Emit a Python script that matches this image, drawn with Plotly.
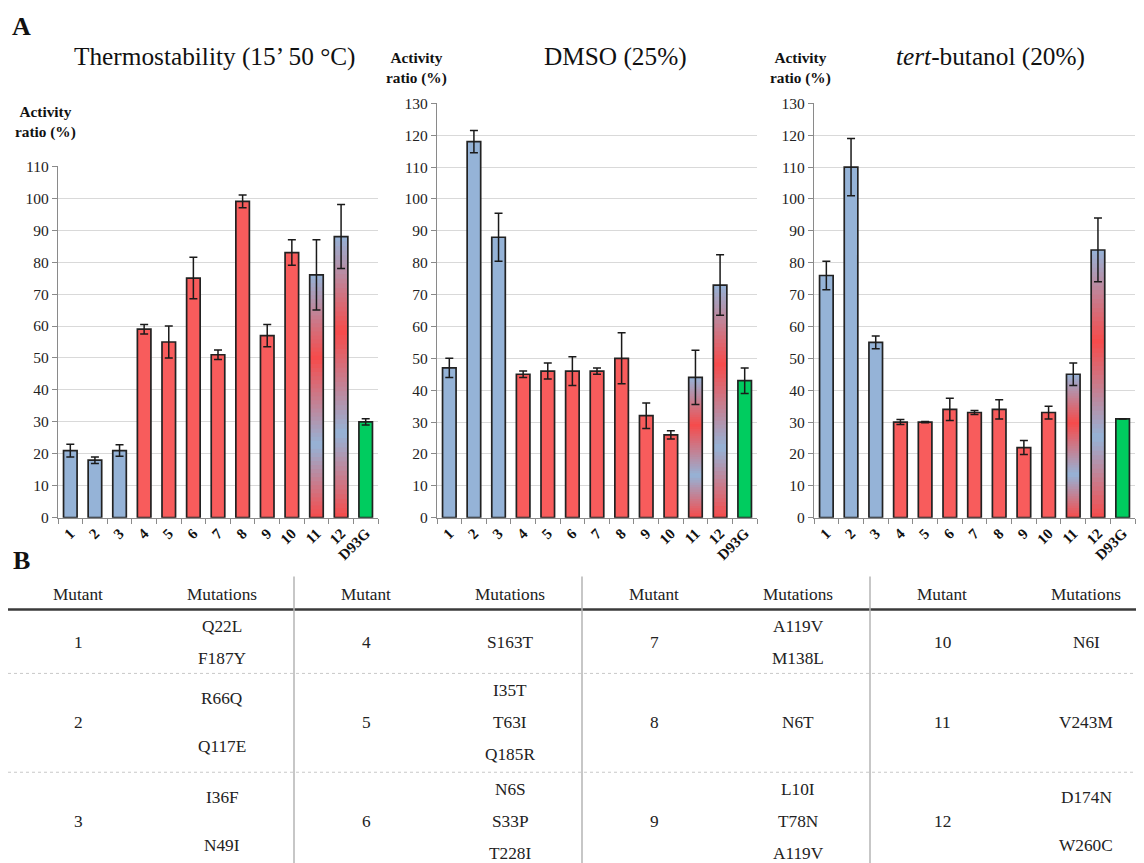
import plotly.graph_objects as go

# ---------------- data ----------------
categories = ["1", "2", "3", "4", "5", "6", "7", "8", "9", "10", "11", "12", "D93G"]
group = ["blue", "blue", "blue", "red", "red", "red", "red", "red", "red", "red", "grad", "grad", "green"]

thermo_vals = [21, 18, 21, 59, 55, 75, 51, 99, 57, 83, 76, 88, 30]
thermo_err = [2, 1, 1.8, 1.5, 5, 6.5, 1.5, 2, 3.5, 4, 11, 10, 1]

dmso_vals = [47, 118, 88, 45, 46, 46, 46, 50, 32, 26, 44, 73, 43]
dmso_err = [3, 3.5, 7.5, 1, 2.5, 4.5, 1, 8, 4, 1.3, 8.5, 9.5, 4]

tbut_vals = [76, 110, 55, 30, 30, 34, 33, 34, 22, 33, 45, 84, 31]
tbut_err = [4.5, 9, 2, 0.8, 0.2, 3.5, 0.6, 3, 2.2, 2, 3.5, 10, 0]

panel_titles = ["Thermostability (15’ 50 °C)", "DMSO (25%)", "<i>tert</i>-butanol (20%)"]
y_max = [110, 130, 130]

table_mutants = [str(i) for i in range(1, 13)]
table_mutations = [
    ["Q22L", "F187Y"], ["R66Q", "Q117E"], ["I36F", "N49I"],
    ["S163T"], ["I35T", "T63I", "Q185R"], ["N6S", "S33P", "T228I"],
    ["A119V", "M138L"], ["N6T"], ["L10I", "T78N", "A119V"],
    ["N6I"], ["V243M"], ["D174N", "W260C"],
]

# ---------------- geometry helpers ----------------
OFF = 8            # body margin of the html page
W, H = 1136, 863
Y_SHIFT, Y_SCALE = 7.6, 0.982   # measured page->picture mapping


def px(x):
    return (x - OFF) / W


def py(y):
    page_y = (y - Y_SHIFT) / Y_SCALE
    return 1 - (page_y - OFF) / H


# ---------------- style ----------------
SERIF = "Liberation Serif, Times New Roman, Tinos, DejaVu Serif, serif"
BLUE = (149, 179, 215)
GRAD_RED = (246, 75, 75)
GREEN = "#00CC5F"
colors = {"blue": "rgb(149,179,215)", "red": "rgb(248,92,92)", "green": GREEN}
grad_stops = [(0.0, GRAD_RED), (0.3, BLUE), (0.66, GRAD_RED), (1.0, BLUE)]


def grad_color(f):
    for (f0, c0), (f1, c1) in zip(grad_stops[:-1], grad_stops[1:]):
        if f0 <= f <= f1:
            t = (f - f0) / (f1 - f0)
            c = [round(a + (b - a) * t) for a, b in zip(c0, c1)]
            return f"rgb({c[0]},{c[1]},{c[2]})"
    return f"rgb{grad_stops[-1][1]}"


x_domains = [(58, 378), (437, 757), (814, 1135)]
y_tops = [165, 102, 102]
y_bottom = 517
BAR_W = 0.55
N_SEG = 60

fig = go.Figure()
datasets = [(thermo_vals, thermo_err), (dmso_vals, dmso_err), (tbut_vals, tbut_err)]

for i, (vals, errs) in enumerate(datasets):
    xa = "x" if i == 0 else f"x{i+1}"
    ya = "y" if i == 0 else f"y{i+1}"
    fills = [colors[g] if g != "grad" else "rgba(0,0,0,0)" for g in group]
    fig.add_trace(go.Bar(x=categories, y=vals, width=BAR_W, marker=dict(color=fills, line=dict(width=0)),
                         xaxis=xa, yaxis=ya, showlegend=False, hoverinfo="skip"))
    gx, gbase, gy, gcol = [], [], [], []
    for c, v, g in zip(categories, vals, group):
        if g != "grad":
            continue
        for k in range(N_SEG):
            b0 = v * k / N_SEG
            gx.append(c)
            gbase.append(b0)
            gy.append(min(3 * v / N_SEG, v - b0))
            gcol.append(grad_color((k + 0.5) / N_SEG))
    fig.add_trace(go.Bar(x=gx, y=gy, base=gbase, width=BAR_W, marker=dict(color=gcol, line=dict(width=0)),
                         xaxis=xa, yaxis=ya, showlegend=False, hoverinfo="skip"))
    fig.add_trace(go.Bar(x=categories, y=vals, width=BAR_W,
                         marker=dict(color="rgba(0,0,0,0)", line=dict(color="#222222", width=1.7)),
                         error_y=dict(type="data", array=errs, visible=True, color="#1a1a1a",
                                      thickness=1.5, width=4),
                         xaxis=xa, yaxis=ya, showlegend=False, hoverinfo="skip"))

layout = dict(
    width=W, height=H, margin=dict(l=0, r=0, t=0, b=0),
    paper_bgcolor="white", plot_bgcolor="white", barmode="overlay",
    font=dict(family=SERIF, color="#111111"),
)
for i in range(3):
    xk = "xaxis" if i == 0 else f"xaxis{i+1}"
    yk = "yaxis" if i == 0 else f"yaxis{i+1}"
    ya_ref = "y" if i == 0 else f"y{i+1}"
    xa_ref = "x" if i == 0 else f"x{i+1}"
    layout[xk] = dict(
        domain=[px(x_domains[i][0]), min(1, px(x_domains[i][1]))], anchor=ya_ref,
        type="category", categoryorder="array", categoryarray=categories,
        range=[-0.5, len(categories) - 0.5],
        showline=True, linecolor="#8a8a8a", linewidth=1.2,
        ticks="outside", tickson="boundaries", ticklen=5, tickcolor="#8a8a8a",
        tickangle=-45, tickfont=dict(family=SERIF, size=15, color="#111111", weight="bold"),
        showgrid=False, fixedrange=True,
    )
    layout[yk] = dict(
        domain=[py(y_bottom), py(y_tops[i])], anchor=xa_ref,
        range=[0, y_max[i]], dtick=10, tick0=0,
        showline=True, linecolor="#8a8a8a", linewidth=1.2,
        ticks="outside", ticklen=5, tickcolor="#8a8a8a",
        tickfont=dict(family=SERIF, size=15.5, color="#222222"),
        showgrid=True, gridcolor="#d9d9d9", gridwidth=1, zeroline=False, fixedrange=True,
    )
fig.update_layout(**layout)

annotations = []
annotations.append(dict(x=px(22), y=py(25), text="<b>A</b>", font=dict(family=SERIF, size=26, color="#111")))
annotations.append(dict(x=px(22), y=py(560), text="<b>B</b>", font=dict(family=SERIF, size=26, color="#111")))
title_x = [215, 615, 990]
for t, tx in zip(panel_titles, title_x):
    annotations.append(dict(x=px(tx), y=py(55), text=t, font=dict(family=SERIF, size=25.3, color="#111")))
ylab_pos = [(45, 121), (416, 67), (800, 67)]
for (lx, ly) in ylab_pos:
    annotations.append(dict(x=px(lx), y=py(ly), text="<b>Activity<br>ratio (%)</b>",
                            font=dict(family=SERIF, size=15.3, color="#111")))

# ---------------- table ----------------
TFONT = dict(family=SERIF, size=17.3, color="#222222")
for b in range(4):
    annotations.append(dict(x=px(78 + 288 * b), y=py(594), text="Mutant", font=TFONT))
    annotations.append(dict(x=px(222 + 288 * b), y=py(594), text="Mutations", font=TFONT))

row_centers = [642, 722, 821]
for r in range(3):
    row_max = max(len(table_mutations[3 * b + r]) for b in range(4))
    for b in range(4):
        idx = 3 * b + r
        annotations.append(dict(x=px(78 + 288 * b), y=py(row_centers[r]), text=table_mutants[idx], font=TFONT))
        muts = table_mutations[idx]
        n = len(muts)
        if n == 1:
            offs = [0]
        elif n == row_max:
            offs = [(k - (n - 1) / 2) * 32 for k in range(n)]
        else:
            offs = [-24, 24]
        for m, o in zip(muts, offs):
            annotations.append(dict(x=px(222 + 288 * b), y=py(row_centers[r] + o), text=m, font=TFONT))

for a in annotations:
    a.update(xref="paper", yref="paper", showarrow=False, xanchor="center", yanchor="middle")

shapes = [
    dict(type="line", xref="paper", yref="paper", x0=0, x1=1, y0=py(609), y1=py(609),
         line=dict(color="#3a3a3a", width=2.5)),
]
for vx in [294, 582, 870]:
    shapes.append(dict(type="line", xref="paper", yref="paper", x0=px(vx), x1=px(vx), y0=py(576), y1=0,
                       line=dict(color="#b5b5b5", width=1.5)))
for hy in [673, 772]:
    shapes.append(dict(type="line", xref="paper", yref="paper", x0=0, x1=1, y0=py(hy), y1=py(hy),
                       line=dict(color="#c8c8c8", width=1, dash="dot")))

fig.update_layout(annotations=annotations, shapes=shapes)
fig.write_html("out.html", config={"displayModeBar": False})
